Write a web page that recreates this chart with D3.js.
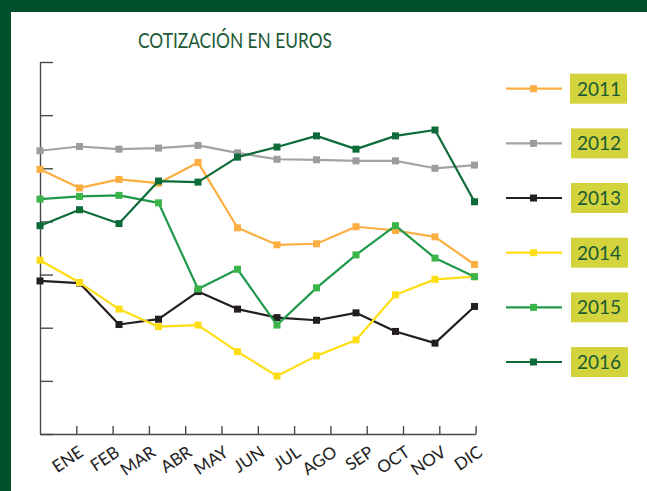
<!DOCTYPE html>
<html>
<head>
<meta charset="utf-8">
<script src="https://cdn.jsdelivr.net/npm/d3@7"></script>
<style>
  html, body { margin: 0; padding: 0; background: #fff; }
  svg { display: block; }
  text { font-family: "Lato", "Open Sans", sans-serif; }
</style>
</head>
<body>
<svg id="chart" width="647" height="491"></svg>
<script>
const months = ["ENE","FEB","MAR","ABR","MAY","JUN","JUL","AGO","SEP","OCT","NOV","DIC"];
const years = ["2011","2012","2013","2014","2015","2016"];
const yTickValues = [0,1,2,3,4,5,6,7];

const s2011 = [4.98,4.63,4.79,4.72,5.11,3.88,3.56,3.58,3.90,3.83,3.71,3.19];
const s2012 = [5.33,5.41,5.36,5.38,5.43,5.29,5.17,5.16,5.14,5.14,5.00,5.06];
const s2013 = [2.88,2.84,2.06,2.16,2.68,2.35,2.19,2.14,2.28,1.93,1.71,2.40];
const s2014 = [3.27,2.85,2.35,2.02,2.05,1.55,1.09,1.47,1.77,2.62,2.91,2.96];
const s2015 = [4.42,4.47,4.49,4.35,2.73,3.10,2.05,2.75,3.37,3.92,3.31,2.96];
const s2016 = [3.92,4.22,3.96,4.76,4.74,5.21,5.40,5.61,5.36,5.61,5.72,4.37];

const seriesValues = [s2011, s2012, s2013, s2014, s2015, s2016];
const lineColors   = ["#FBAE42","#A3A3A6","#231F20","#FFDD15","#20994A","#0C6B38"];
const markerColors = ["#FBAE42","#9C9CA0","#231F20","#FFDD15","#3BB54A","#0C6B38"];

const svg = d3.select("#chart");

// frame
svg.append("rect").attr("x",0).attr("y",0).attr("width",647).attr("height",12).attr("fill","#00502E");
svg.append("rect").attr("x",0).attr("y",0).attr("width",11).attr("height",491).attr("fill","#00502E");

// title
svg.append("text").attr("x",235).attr("y",48).attr("text-anchor","middle")
  .attr("font-size",22).attr("fill","#1B5A36")
  .attr("textLength",194).attr("lengthAdjust","spacingAndGlyphs")
  .text("COTIZACIÓN EN EUROS");

const x = d3.scalePoint().domain(months).range([40, 474.5]);
const xt = d3.scaleLinear().domain([0, 12]).range([40, 475.6]);
const y = d3.scaleLinear().domain([0, 7]).range([434, 62]);

const axisColor = "#4a4a4a";

// y axis
const gy = svg.append("g").attr("transform","translate(40,0)")
  .call(d3.axisRight(y).tickValues(yTickValues).tickSize(13).tickSizeOuter(0).tickFormat(""));
gy.selectAll("path,line").attr("stroke",axisColor).attr("stroke-width",1.4);

// x axis
const gx = svg.append("g").attr("transform","translate(0,434)")
  .call(d3.axisBottom(xt).tickValues(d3.range(1,13)).tickSize(-8).tickSizeOuter(0).tickFormat(""));
gx.selectAll("path,line").attr("stroke",axisColor).attr("stroke-width",1.4);

svg.append("g").selectAll("text").data(months).join("text")
  .attr("transform",(d,i)=>`translate(${xt(i+1)+8},455) rotate(-34)`)
  .attr("text-anchor","end").attr("font-size",17).attr("fill","#222")
  .text(d=>d);

// lines
const line = d3.line().x((d,i)=>x(months[i])).y(d=>y(d));
const ms = 7;
seriesValues.forEach((vals, k) => {
  const g = svg.append("g");
  g.append("path").datum(vals).attr("d", line).attr("fill","none")
    .attr("stroke", lineColors[k]).attr("stroke-width", 2.2).attr("stroke-linejoin","round");
  g.selectAll("rect").data(vals).join("rect")
    .attr("x",(d,i)=>x(months[i])-ms/2).attr("y",d=>y(d)-ms/2)
    .attr("width",ms).attr("height",ms).attr("fill",markerColors[k]);
});

// legend
const legY = d3.scalePoint().domain(years).range([88.7, 362]);
const lg = svg.append("g").selectAll("g").data(years).join("g")
  .attr("transform", d=>`translate(0,${legY(d)})`);
lg.append("line").attr("x1",506).attr("x2",562).attr("y1",0).attr("y2",0)
  .attr("stroke",(d,i)=>lineColors[i]).attr("stroke-width",2.2);
lg.append("rect").attr("x",533.5-ms/2).attr("y",-ms/2).attr("width",ms).attr("height",ms)
  .attr("fill",(d,i)=>markerColors[i]);
lg.append("rect").attr("x",(d,i)=> i===0?570:571).attr("y",-15).attr("width",57).attr("height",30)
  .attr("fill","#D3D33D");
lg.append("text").attr("x",599).attr("y",7).attr("text-anchor","middle")
  .attr("font-size",19).attr("fill","#1A5A35").text(d=>d);
</script>
</body>
</html>
